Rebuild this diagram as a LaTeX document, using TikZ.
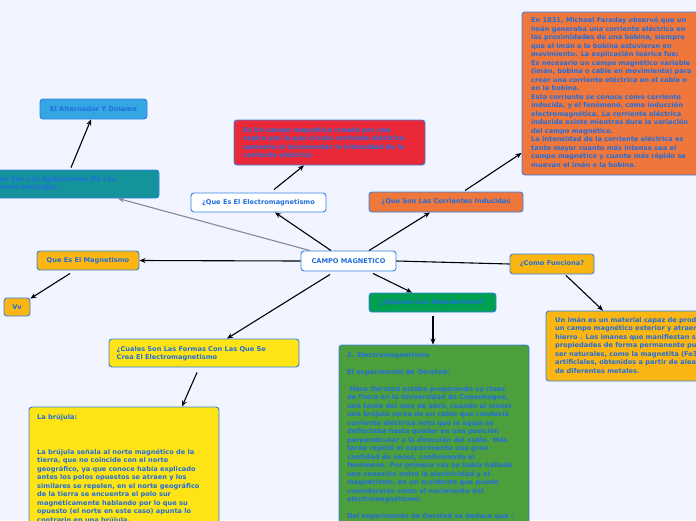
\documentclass[tikz,border=0pt]{standalone}
\usepackage{fontspec}
\setmainfont{DejaVu Sans}
\usetikzlibrary{arrows.meta}
\definecolor{bg}{RGB}{242,245,255}
\definecolor{txt}{RGB}{33,110,220}
\definecolor{bord}{RGB}{50,130,230}
\definecolor{corange}{RGB}{239,119,60}
\definecolor{cred}{RGB}{234,41,56}
\definecolor{cteal}{RGB}{20,147,155}
\definecolor{clblue}{RGB}{52,166,228}
\definecolor{camber}{RGB}{251,182,19}
\definecolor{cgreen}{RGB}{0,160,80}
\definecolor{cyellow}{RGB}{255,228,21}
\definecolor{cgreenb}{RGB}{76,159,60}
\definecolor{cgray}{RGB}{135,138,148}
\tikzset{
  box/.style={draw=bord, line width=0.9pt, rounded corners=3pt, inner sep=0pt,
    font=\bfseries\fontsize{6.6}{8.5}\selectfont, text=txt, align=center},
  para/.style={inner sep=0pt, anchor=north west, align=left, text=txt,
    font=\bfseries\fontsize{6.6}{8.5}\selectfont},
  conn/.style={draw=black, line width=1.1pt, -{Stealth[length=6pt,width=5pt]}},
  connplain/.style={draw=black, line width=1.1pt},
  conngray/.style={draw=cgray, line width=1.1pt, -{Stealth[length=6pt,width=5pt]}}
}
\begin{document}
\begin{tikzpicture}[x=1pt,y=-1pt]
\useasboundingbox (0,0) rectangle (696,520);
\fill[bg] (0,0) rectangle (696,520);
\begin{scope}
\clip (0,0) rectangle (696,520);
% boxes
\node[box, fill=white, minimum width=95pt, minimum height=20pt] (campo) at (348.5,261) {CAMPO MAGNETICO};
\node[box, fill=white, minimum width=135pt, minimum height=19pt] (elec) at (258.5,202.5) {¿Que Es El Electromagnetismo};
\node[box, fill=cred, minimum width=191pt, minimum height=45pt] (red) at (329.5,142.5) {};
\node[para] (redtext) at (243,127) {Es Un campo magnético creado por una\\espira por la que circula corriente eléctrica\\aumenta al incrementar la intensidad de la\\corriente eléctrica};
\node[box, fill=corange, minimum width=154pt, minimum height=20pt] (corr) at (446,202) {¿Que Son Las Corrientes Inducidas};
\node[box, fill=corange, minimum width=198pt, minimum height=163pt] (orange) at (621,93.5) {};
\node[para] (orangetext) at (531,17.5) {En 1831, Michael Faraday observó que un\\imán generaba una corriente eléctrica en\\las proximidades de una bobina, siempre\\que el imán o la bobina estuvieran en\\movimiento. La explicación teórica fue:\\Es necesario un campo magnético variable\\(imán, bobina o cable en movimiento) para\\crear una corriente eléctrica en el cable o\\en la bobina.\\Esta corriente se conoce como corriente\\inducida, y el fenómeno, como inducción\\electromagnética. La corriente eléctrica\\inducida existe mientras dure la variación\\del campo magnético.\\La intensidad de la corriente eléctrica es\\tanto mayor  cuanto más intenso sea el\\campo magnético y cuanto más rápido se\\muevan el imán o la bobina.};
\node[box, fill=cteal, minimum width=199pt, minimum height=28pt] (teal) at (59.5,184) {};
\node[para] (tealtext) at (-20,176) {¿Cuales Son Las Aplicaciones De Las\\Corrientes Inducidas};
\node[box, fill=clblue, minimum width=107pt, minimum height=20pt] (alt) at (93.5,109) {El Alternador Y Dinamo};
\node[box, fill=camber, minimum width=102pt, minimum height=19pt] (mag) at (88,260.5) {Que Es El Magnetismo};
\node[box, fill=camber, minimum width=26pt, minimum height=18pt] (vv) at (17,307) {Vv};
\node[box, fill=camber, minimum width=84pt, minimum height=20pt] (como) at (552,264) {¿Como Funciona?};
\node[box, fill=camber, minimum width=194pt, minimum height=70pt] (amber) at (643,346) {};
\node[para] (ambertext) at (555,317) {Un imán es un material capaz de producir\\un campo magnético exterior y atraer el\\hierro . Los imanes que manifiestan sus\\propiedades de forma permanente pueden\\ser naturales, como la magnetita (Fe3O4) o\\artificiales, obtenidos a partir de aleaciones\\de diferentes metales.};
\node[box, fill=cgreen, minimum width=127pt, minimum height=19pt] (quien) at (432.5,302.5) {¿Quienes Los Descubrieron?};
\node[box, fill=cgreenb, minimum width=190pt, minimum height=190pt] (greenb) at (434,440) {};
\node[para] (greentext) at (347,352) {2. Electromagnetismo\\[8.5pt]El experimento de Oersted:\\[8.5pt]\ Hans Oersted estaba preparando su clase\\de física en la Universidad de Copenhague,\\una tarde del mes de abril, cuando al mover\\una brújula cerca de un cable que conducía\\corriente eléctrica notó que la aguja se\\deflectaba hasta quedar en una posición\\perpendicular a la dirección del cable. Más\\tarde repitió el experimento una gran\\cantidad de veces, confirmando el\\fenómeno. Por primera vez se había hallado\\una conexión entre la electricidad y el\\magnetismo, en un accidente que puede\\considerarse como el nacimiento del\\electromagnetismo.\\[8.5pt]Del experimento de Oersted se deduce que :};
\node[box, fill=cyellow, minimum width=190pt, minimum height=28pt] (cuales) at (204,353) {};
\node[para] (cualestext) at (116.5,346) {¿Cuales Son Las Formas Con Las Que Se\\Crea El Electromagnetismo};
\node[box, fill=cyellow, minimum width=190pt, minimum height=130pt] (bruj) at (124,472) {};
\node[para] (brujtext) at (37,414) {La brújula:\\[26.5pt]La brújula señala al norte magnético de la\\tierra, que no coincide con el norte\\geográfico, ya que conoce había explicado\\antes los polos opuestos se atraen y los\\similares se repelen, en el norte geográfico\\de la tierra se encuentra el polo sur\\magnéticamente hablando por lo que su\\opuesto (el norte en este caso) apunta lo\\contrario en una brújula.};
% connectors
\draw[conn] ([xshift=-17.5pt]campo.north) -- ([xshift=16.5pt]elec.south);
\draw[conn] ([xshift=15.5pt,yshift=3pt]elec.north) -- ([xshift=-25.5pt]red.south);
\draw[conn] ([xshift=20.5pt]campo.north) -- ([xshift=-16pt]corr.south);
\draw[conn] ([xshift=19pt,yshift=1pt]corr.north) -- ([yshift=-59.5pt]orange.west);
\draw[conngray] ([xshift=-38.5pt]campo.north) -- ([xshift=58.5pt]teal.south);
\draw[conn] ([xshift=11.5pt,yshift=2pt]teal.north) -- ([xshift=-2.5pt]alt.south);
\draw[conn] (campo.west) -- (mag.east);
\draw[conn] ([xshift=-18pt,yshift=-3pt]mag.south) -- ([yshift=-1pt]vv.north east);
\draw[connplain] (campo.east) -- (como.west);
\draw[conn] ([xshift=14pt,yshift=-1pt]como.south) -- ([xshift=-40pt]amber.north);
\draw[conn] ([xshift=24.5pt,yshift=-2pt]campo.south) -- ([xshift=-20.5pt]quien.north);
\draw[conn] ([xshift=0.5pt,yshift=-4pt]quien.south) -- ([xshift=-1pt]greenb.north);
\draw[conn] ([xshift=-18.5pt,yshift=-3pt]campo.south) -- ([xshift=23pt]cuales.north);
\draw[conn] ([xshift=-7pt,yshift=-5pt]cuales.south) -- ([xshift=58pt]bruj.north);
\end{scope}
\end{tikzpicture}
\end{document}
